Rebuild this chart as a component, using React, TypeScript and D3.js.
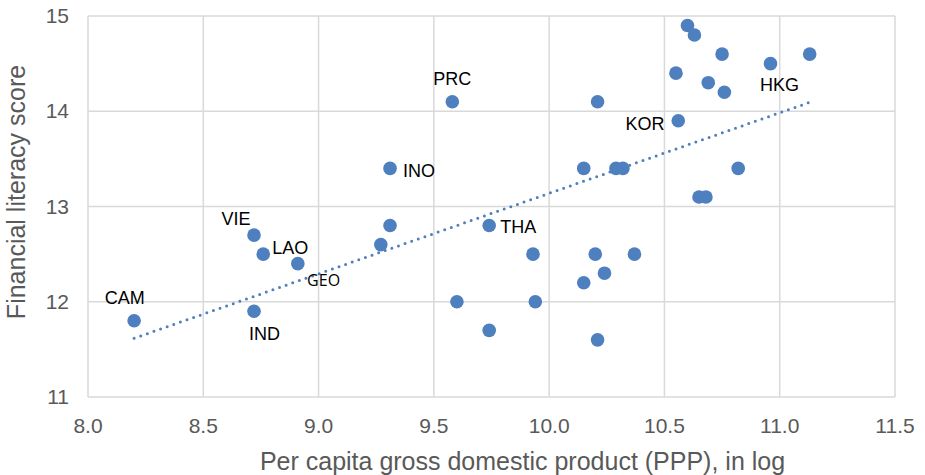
import React from "react";
import * as d3 from "d3";

// ---- data ----
const gdpLog: number[] = [
  8.2, 8.72, 8.76, 8.91, 8.72, 9.31, 9.31, 9.27, 9.58, 9.74, 9.6, 9.74,
  9.93, 9.94, 10.15, 10.15, 10.2, 10.21, 10.21, 10.24, 10.29, 10.32, 10.37,
  10.6, 10.63, 10.75, 10.96, 11.13, 10.55, 10.69, 10.76, 10.56, 10.82,
  10.65, 10.68,
];
const literacy: number[] = [
  11.8, 12.7, 12.5, 12.4, 11.9, 13.4, 12.8, 12.6, 14.1, 12.8, 12.0, 11.7,
  12.5, 12.0, 13.4, 12.2, 12.5, 14.1, 11.6, 12.3, 13.4, 13.4, 12.5, 14.9,
  14.8, 14.6, 14.5, 14.6, 14.4, 14.3, 14.2, 13.9, 13.4, 13.1, 13.1,
];
const pointLabels: string[] = [
  "CAM", "VIE", "LAO", "GEO", "IND", "INO", "", "", "PRC", "THA", "", "",
  "", "", "", "", "", "", "", "", "", "", "", "", "", "", "HKG", "", "",
  "", "", "KOR", "", "", "",
];
const xTicks: number[] = [8.0, 8.5, 9.0, 9.5, 10.0, 10.5, 11.0, 11.5];
const yTicks: number[] = [11, 12, 13, 14, 15];
const xTitle = "Per capita gross domestic product (PPP), in log";
const yTitle = "Financial literacy score";

// ---- label placement (style) ----
const labelStyle: Record<string, { dx: number; dy: number; anchor: string; font?: string; size?: number }> = {
  PRC: { dx: 0, dy: -16.5, anchor: "middle" },
  INO: { dx: 13, dy: 8.5, anchor: "start" },
  VIE: { dx: -18, dy: -9.6, anchor: "middle" },
  LAO: { dx: 9, dy: -0.3, anchor: "start" },
  GEO: { dx: 9.3, dy: 22, anchor: "start", font: "'Open Sans', sans-serif", size: 16 },
  CAM: { dx: -9.4, dy: -17, anchor: "middle" },
  IND: { dx: 10.4, dy: 29, anchor: "middle" },
  THA: { dx: 11, dy: 7, anchor: "start" },
  KOR: { dx: -13.7, dy: 9.3, anchor: "end" },
  HKG: { dx: 9, dy: 27.4, anchor: "middle" },
};

const W = 925;
const H = 475;
const M = { left: 88, right: 895, top: 16, bottom: 397 };
const BLUE = "#4e7fbe";
const GRID = "#d9d9d9";
const TXT = "#595959";
const FONT = "'Liberation Sans', Arial, Helvetica, sans-serif";

export default function App() {
  const x = d3.scaleLinear().domain([8.0, 11.5]).range([M.left, M.right]);
  const y = d3.scaleLinear().domain([11, 15]).range([M.bottom, M.top]);

  const pts = gdpLog.map((g, i) => ({ g, s: literacy[i], label: pointLabels[i] }));

  // OLS trend line
  const mx = d3.mean(gdpLog)!;
  const my = d3.mean(literacy)!;
  let sxy = 0,
    sxx = 0;
  gdpLog.forEach((g, i) => {
    sxy += (g - mx) * (literacy[i] - my);
    sxx += (g - mx) * (g - mx);
  });
  const slope = sxy / sxx;
  const intercept = my - slope * mx;
  const [x0, x1] = d3.extent(gdpLog) as [number, number];
  const trend = d3
    .line<number>()
    .x((v) => x(v))
    .y((v) => y(intercept + slope * v));

  return (
    <svg
      width={W}
      height={H}
      style={{ position: "absolute", left: 0, top: 0, background: "#fff" }}
    >
      {/* grid */}
      {xTicks.map((t) => (
        <line key={"gx" + t} x1={x(t)} x2={x(t)} y1={M.top} y2={M.bottom} stroke={GRID} strokeWidth={1.5} />
      ))}
      {yTicks.map((t) => (
        <line key={"gy" + t} x1={M.left} x2={M.right} y1={y(t)} y2={y(t)} stroke={GRID} strokeWidth={1.5} />
      ))}

      {/* tick labels */}
      {xTicks.map((t) => (
        <text key={"tx" + t} x={x(t)} y={433} textAnchor="middle" fontFamily={FONT} fontSize={21} fill={TXT}>
          {d3.format(".1f")(t)}
        </text>
      ))}
      {yTicks.map((t) => (
        <text key={"ty" + t} x={69} y={y(t) + 7} textAnchor="end" fontFamily={FONT} fontSize={21} fill={TXT}>
          {t}
        </text>
      ))}

      {/* axis titles */}
      <text x={522.5} y={470} textAnchor="middle" fontFamily={FONT} fontSize={25} fill={TXT}>
        {xTitle}
      </text>
      <text
        transform={`translate(25, 192) rotate(-90)`}
        textAnchor="middle"
        fontFamily={FONT}
        fontSize={25}
        fill={TXT}
      >
        {yTitle}
      </text>

      {/* trend line */}
      <path
        d={trend([x0, x1]) || ""}
        fill="none"
        stroke={BLUE}
        strokeWidth={3}
        strokeDasharray="0 7"
        strokeLinecap="round"
      />

      {/* points */}
      {pts.map((p, i) => (
        <circle key={"p" + i} cx={x(p.g)} cy={y(p.s)} r={6.8} fill={BLUE} />
      ))}

      {/* labels */}
      {pts
        .filter((p) => p.label)
        .map((p) => {
          const st = labelStyle[p.label];
          return (
            <text
              key={"l" + p.label}
              x={x(p.g) + st.dx}
              y={y(p.s) + st.dy}
              textAnchor={st.anchor as any}
              fontFamily={st.font || FONT}
              fontSize={st.size || 18}
              fill="#000"
            >
              {p.label}
            </text>
          );
        })}
    </svg>
  );
}
